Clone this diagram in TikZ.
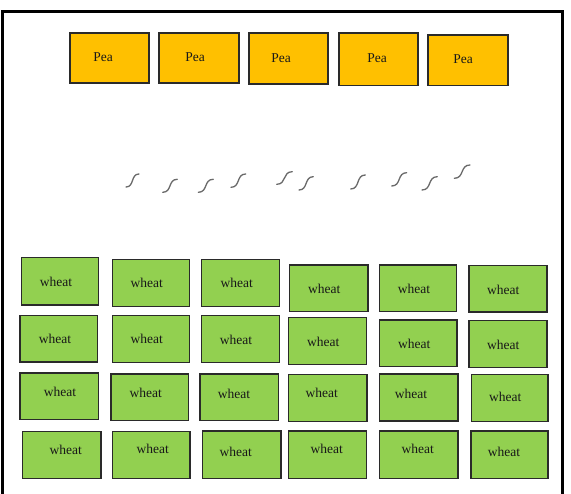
\documentclass[tikz,border=0pt]{standalone}
\usepackage{fontspec}
\setmainfont{Liberation Serif}
\definecolor{peafill}{HTML}{FFC000}
\definecolor{wheatfill}{HTML}{92D050}
\definecolor{boxline}{HTML}{2A2A2A}
\definecolor{squig}{HTML}{6A6A6A}
\newcommand\cropbox[9]{%
  \pgfmathsetmacro\bw{#6-#4}\pgfmathsetmacro\bh{#7-#5}%
  \pgfmathsetmacro\bcx{(#4+#6)/2}\pgfmathsetmacro\bcy{(#5+#7)/2}%
  \pgfmathsetmacro\bdx{#8-\bcx}\pgfmathsetmacro\bdy{\bcy-#9}%
  \node[#1, minimum width=\bw pt, minimum height=\bh pt,
        label={[boxlabel, xshift=\bdx pt, yshift=\bdy pt]center:#3}] (#2) at (\bcx,\bcy) {};}
\newcommand\squiggle[4]{%
  \pgfmathsetmacro\sw{#3-#1}%
  \draw[squigline] (#1,#2) .. controls ({#1+0.65*\sw},#2) and ({#3-0.65*\sw},#4) .. (#3,#4);}
\tikzset{
  cropbase/.style={draw=boxline, line width=1.2pt, rectangle, inner sep=0pt, outer sep=0pt},
  peabox/.style={cropbase, fill=peafill},
  wheatbox/.style={cropbase, fill=wheatfill},
  boxlabel/.style={inner sep=0pt, font=\fontsize{13.5}{15}\selectfont, text=black!90},
  squigline/.style={draw=squig, line width=1.3pt, line cap=round},
  frameline/.style={draw=black, line width=3pt}
}
\begin{document}
\begin{tikzpicture}[x=1pt,y=-1pt]
\useasboundingbox[fill=white] (0,0) rectangle (571,494);
\draw[frameline] (2.5,496) -- (2.5,12) -- (562.5,12) -- (562.5,496);
% Pea row
\cropbox{peabox}{pea1}{Pea}{70}{33}{149}{83}{103}{57.5}
\cropbox{peabox}{pea2}{Pea}{159}{33}{239}{83}{195}{57.5}
\cropbox{peabox}{pea3}{Pea}{249}{33}{328}{84}{281}{58}
\cropbox{peabox}{pea4}{Pea}{339}{33}{418}{85.5}{377}{58.5}
\cropbox{peabox}{pea5}{Pea}{428}{35}{508}{85.5}{463}{59.5}
% squiggles
\squiggle{126}{187}{139}{174}
\squiggle{162.7}{192.3}{177.3}{179.3}
\squiggle{198.3}{192.3}{213.3}{179.3}
\squiggle{231}{187.3}{245.7}{174}
\squiggle{276.7}{184.3}{292.3}{171.7}
\squiggle{299}{190}{313.3}{176.7}
\squiggle{350.7}{189}{365.3}{175}
\squiggle{391.7}{186}{406.7}{172.7}
\squiggle{422}{190}{437.3}{176.7}
\squiggle{454.3}{178.3}{470}{165}
% wheat row 1
\cropbox{wheatbox}{w11}{wheat}{21.5}{257.5}{98.5}{305}{56}{282}
\cropbox{wheatbox}{w12}{wheat}{112.5}{259.5}{189.5}{306.5}{146.7}{283}
\cropbox{wheatbox}{w13}{wheat}{201.5}{259.5}{279.5}{306.5}{236.7}{283}
\cropbox{wheatbox}{w14}{wheat}{289.5}{265}{368}{311.5}{324.3}{289}
\cropbox{wheatbox}{w15}{wheat}{379.5}{265}{456.5}{311.5}{414}{289}
\cropbox{wheatbox}{w16}{wheat}{469}{265.5}{547}{312}{503.3}{290}
% wheat row 2
\cropbox{wheatbox}{w21}{wheat}{20}{315.5}{97.5}{362}{55}{339.3}
\cropbox{wheatbox}{w22}{wheat}{112.5}{315.5}{189.5}{362.5}{146.7}{339}
\cropbox{wheatbox}{w23}{wheat}{201.5}{315.5}{279.5}{362.5}{236}{340}
\cropbox{wheatbox}{w24}{wheat}{288.5}{317.5}{366.5}{364.5}{323.3}{341.7}
\cropbox{wheatbox}{w25}{wheat}{379.5}{320}{457}{366.5}{414.3}{344}
\cropbox{wheatbox}{w26}{wheat}{469}{320.5}{547}{367.5}{503.3}{345.3}
% wheat row 3
\cropbox{wheatbox}{w31}{wheat}{20}{373}{98.5}{419.5}{60}{391.7}
\cropbox{wheatbox}{w32}{wheat}{111}{374}{188.5}{420.5}{145.7}{392.7}
\cropbox{wheatbox}{w33}{wheat}{200}{374}{278.5}{420.5}{234}{394}
\cropbox{wheatbox}{w34}{wheat}{288.5}{374.5}{367}{421.5}{321.7}{392.7}
\cropbox{wheatbox}{w35}{wheat}{379.5}{374}{458}{421}{411}{394.3}
\cropbox{wheatbox}{w36}{wheat}{471.5}{374.5}{548}{421.5}{505.3}{397.3}
% wheat row 4
\cropbox{wheatbox}{w41}{wheat}{22.5}{431.5}{101}{478.5}{65.7}{450}
\cropbox{wheatbox}{w42}{wheat}{112.5}{431.5}{190}{478.5}{152.7}{449.3}
\cropbox{wheatbox}{w43}{wheat}{202.5}{431}{281}{478.5}{235.7}{451.7}
\cropbox{wheatbox}{w44}{wheat}{288.5}{431}{366.5}{478.5}{326.7}{449}
\cropbox{wheatbox}{w45}{wheat}{379.5}{431}{458}{478.5}{417.7}{449}
\cropbox{wheatbox}{w46}{wheat}{471}{431}{548}{478.5}{504}{451.7}
\end{tikzpicture}
\end{document}
